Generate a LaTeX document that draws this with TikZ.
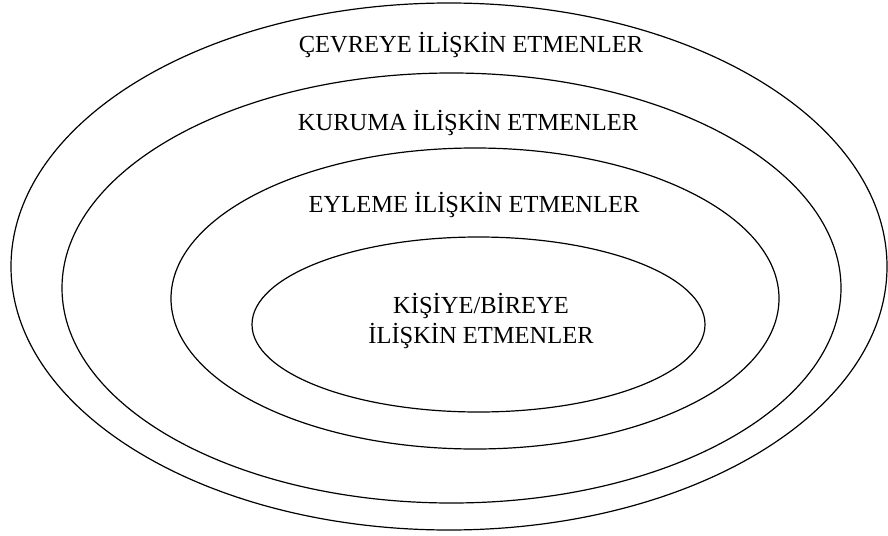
\documentclass[tikz,border=0pt]{standalone}
\usepackage{fontspec}
\setmainfont{Liberation Serif}
\usetikzlibrary{shapes.geometric}
\begin{document}
\begin{tikzpicture}[x=0.5pt,y=-0.5pt,
  ring/.style={draw, ellipse, line width=0.6pt, inner sep=0pt},
  ringtext/.style={font=\fontsize{12.25}{15}\selectfont, align=center, inner sep=0pt}]
\useasboundingbox (0,0) rectangle (888,535);

\node[ring, minimum width=438pt, minimum height=263.5pt] (env) at (449,266.5) {};
\node[ring, minimum width=389.5pt, minimum height=215pt] (inst) at (451.5,288) {};
\node[ring, minimum width=304pt, minimum height=150.5pt] (act) at (475,298.5) {};
\node[ring, minimum width=226.5pt, minimum height=87.5pt] (pers) at (478.5,324.5) {};

\node[ringtext, anchor=base] (envtext) at (471,53) {ÇEVREYE İLİŞKİN ETMENLER};
\node[ringtext, anchor=base] (insttext) at (468,130) {KURUMA İLİŞKİN ETMENLER};
\node[ringtext, anchor=base] (acttext) at (474,212) {EYLEME İLİŞKİN ETMENLER};
\node[ringtext] (perstext) at (481,321) {KİŞİYE/BİREYE\\İLİŞKİN ETMENLER};
\end{tikzpicture}
\end{document}
